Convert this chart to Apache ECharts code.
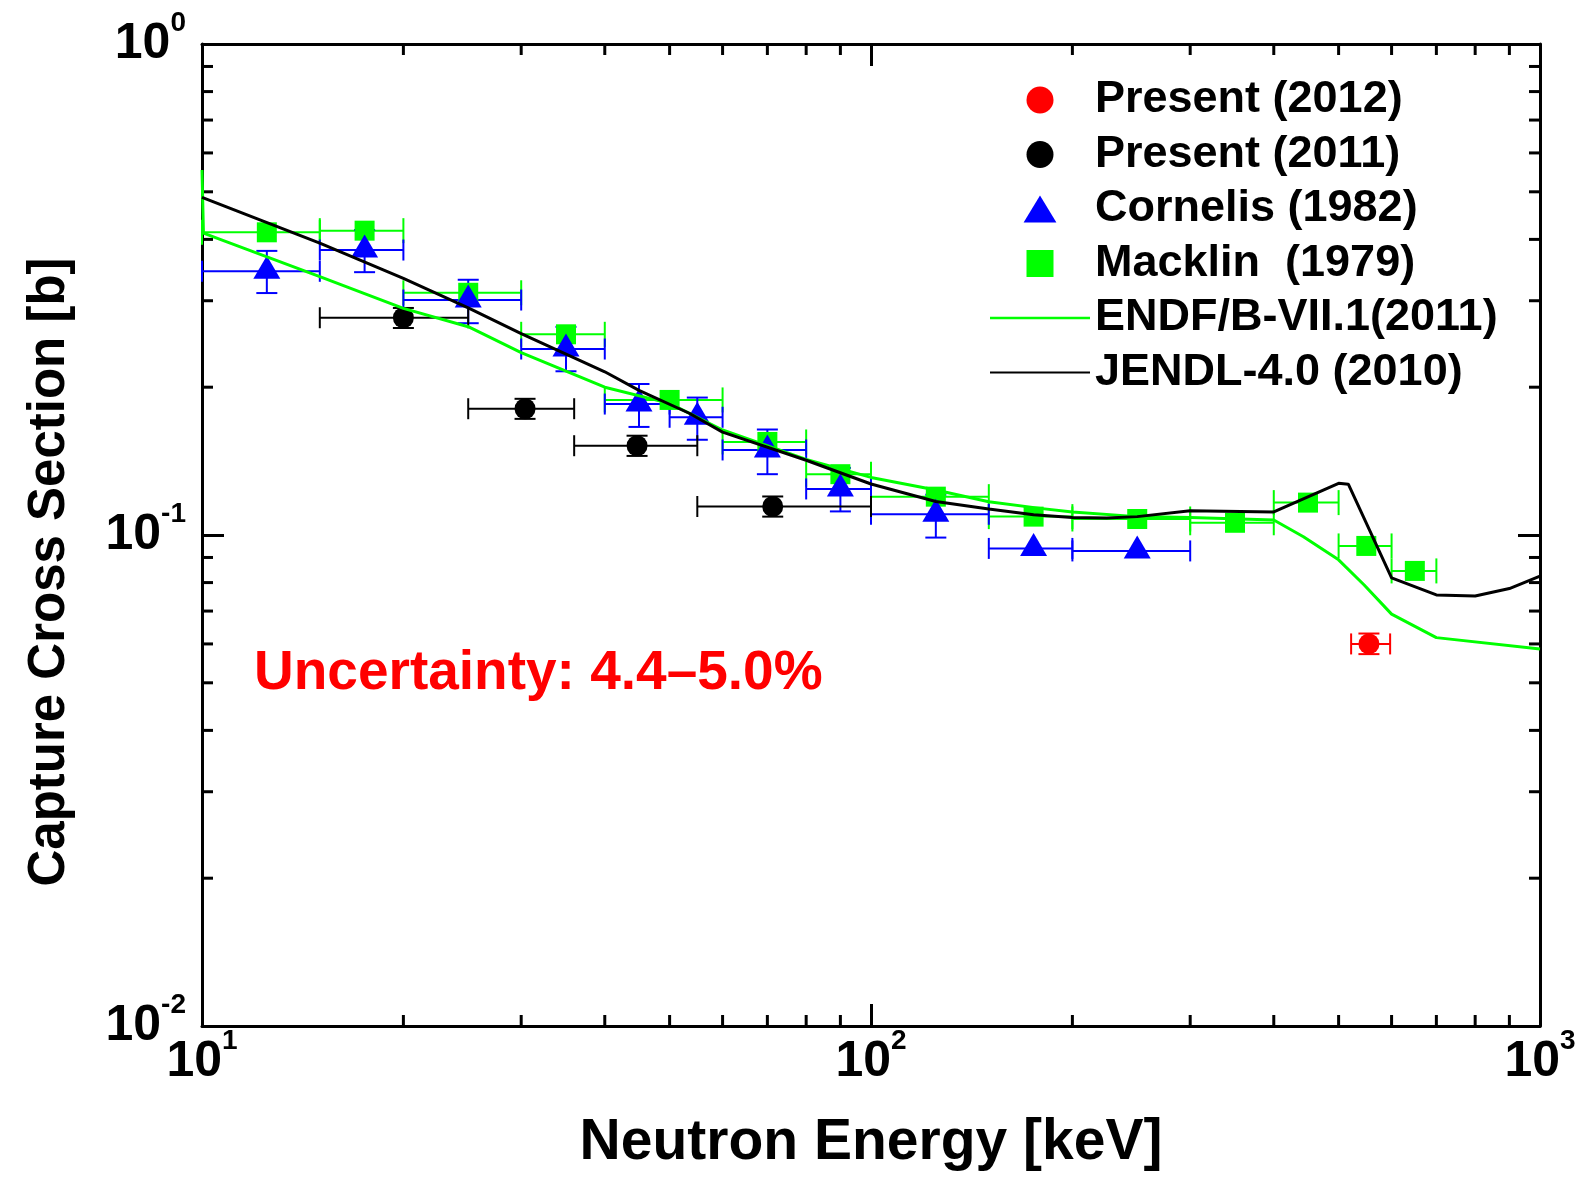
<!DOCTYPE html>
<html>
<head>
<meta charset="utf-8">
<script src="https://cdn.jsdelivr.net/npm/echarts@6/dist/echarts.min.js"></script>
<style>
html,body{margin:0;padding:0;background:#ffffff;}
#chart{width:1582px;height:1182px;}
</style>
</head>
<body>
<div id="chart"></div>
<script>
const FONT = '"Liberation Sans", Arial, Helvetica, sans-serif';

// ---- axis ranges / ticks ----
const xRange = [10, 1000];
const yRange = [0.01, 1];
const xMinorTicks = [20, 30, 40, 50, 60, 70, 80, 90, 200, 300, 400, 500, 600, 700, 800, 900];
const yMinorTicks = [0.02, 0.03, 0.04, 0.05, 0.06, 0.07, 0.08, 0.09, 0.2, 0.3, 0.4, 0.5, 0.6, 0.7, 0.8, 0.9];

// ---- Present (2012) ----
const p2012X   = [555];
const p2012Y   = [0.0600];
const p2012Xlo = [522];
const p2012Xhi = [597];
const p2012Ylo = [0.0572];
const p2012Yhi = [0.0630];

// ---- Present (2011) ----
const p2011X   = [20.0, 30.4, 44.7, 71.3];
const p2011Y   = [0.277, 0.1808, 0.152, 0.1143];
const p2011Xlo = [15, 25, 36, 55];
const p2011Xhi = [25, 36, 55, 100];
const p2011Ylo = [0.264, 0.1724, 0.1449, 0.1090];
const p2011Yhi = [0.290, 0.1894, 0.1593, 0.1198];

// ---- Cornelis (1982) ----
const cornX   = [12.5, 17.5, 25, 35, 45, 55, 70, 90, 125, 175, 250];
const cornY   = [0.3444, 0.3805, 0.301, 0.2392, 0.1848, 0.1737, 0.149, 0.1241, 0.1102, 0.0939, 0.0928];
const cornXlo = [10, 15, 20, 30, 40, 50, 60, 80, 100, 150, 200];
const cornXhi = [15, 20, 30, 40, 50, 60, 80, 100, 150, 200, 300];
const cornYlo = [0.311, 0.343, 0.270, 0.2155, 0.166, 0.1563, 0.133, 0.1117, 0.0988, 0.0939, 0.0928];
const cornYhi = [0.379, 0.418, 0.331, 0.2654, 0.203, 0.1905, 0.164, 0.137, 0.1208, 0.0939, 0.0928];

// ---- Macklin (1979) ----
const mackX   = [12.5, 17.5, 25, 35, 50, 70, 90, 125, 175, 250, 350, 450, 550, 650];
const mackY   = [0.4135, 0.4167, 0.3114, 0.2563, 0.1884, 0.1547, 0.133, 0.1197, 0.109, 0.1078, 0.1059, 0.1164, 0.095, 0.0845];
const mackXlo = [10, 15, 20, 30, 40, 60, 80, 100, 150, 200, 300, 400, 500, 600];
const mackXhi = [15, 20, 30, 40, 60, 80, 100, 150, 200, 300, 400, 500, 600, 700];

// ---- ENDF/B-VII.1 (2011) ----
const endfX = [10, 10.05, 15, 20, 25, 30, 40, 50, 60, 80, 100, 125, 150, 179, 200, 250, 300, 400, 443, 500, 546, 600, 700, 1000];
const endfY = [0.554, 0.412, 0.336, 0.2895, 0.2656, 0.2351, 0.200, 0.1854, 0.1636, 0.1426, 0.131, 0.1235, 0.1169, 0.1133, 0.1114, 0.109, 0.1086, 0.1073, 0.0992, 0.089, 0.0791, 0.069, 0.0618, 0.0586];

// ---- JENDL-4.0 (2010) ----
const jendlX = [10, 15, 20, 25, 30, 40, 45, 53.5, 60, 80, 100, 125, 150, 175, 200, 225, 250, 300, 400, 500, 517, 600, 700, 800, 900, 1000];
const jendlY = [0.487, 0.393, 0.333, 0.290, 0.257, 0.215, 0.197, 0.177, 0.162, 0.142, 0.127, 0.117, 0.113, 0.110, 0.1086, 0.1083, 0.109, 0.112, 0.1114, 0.1274, 0.1269, 0.0818, 0.0755, 0.0751, 0.0778, 0.0825];

const names = ['Present (2012)', 'Present (2011)', 'Cornelis (1982)', 'Macklin  (1979)', 'ENDF/B-VII.1(2011)', 'JENDL-4.0 (2010)'];

function zip(...arrs) { return arrs[0].map((_, i) => arrs.map(a => a[i])); }

function errRender(color, capH, capW) {
  return function (params, api) {
    const x = api.value(0), y = api.value(1);
    const xl = api.value(2), xh = api.value(3), yl = api.value(4), yh = api.value(5);
    const st = { stroke: color, lineWidth: 2, fill: null };
    const pL = api.coord([xl, y]), pR = api.coord([xh, y]);
    const ch = [
      { type: 'line', shape: { x1: pL[0], y1: pL[1], x2: pR[0], y2: pR[1] }, style: st },
      { type: 'line', shape: { x1: pL[0], y1: pL[1] - capH / 2, x2: pL[0], y2: pL[1] + capH / 2 }, style: st },
      { type: 'line', shape: { x1: pR[0], y1: pR[1] - capH / 2, x2: pR[0], y2: pR[1] + capH / 2 }, style: st }
    ];
    if (yh > yl) {
      const pB = api.coord([x, yl]), pT = api.coord([x, yh]);
      ch.push(
        { type: 'line', shape: { x1: pB[0], y1: pB[1], x2: pT[0], y2: pT[1] }, style: st },
        { type: 'line', shape: { x1: pB[0] - capW / 2, y1: pB[1], x2: pB[0] + capW / 2, y2: pB[1] }, style: st },
        { type: 'line', shape: { x1: pT[0] - capW / 2, y1: pT[1], x2: pT[0] + capW / 2, y2: pT[1] }, style: st }
      );
    }
    return { type: 'group', children: ch };
  };
}

function minorX(params, api) {
  const cs = params.coordSys;
  const p = api.coord([api.value(0), api.value(1)]);
  const st = { stroke: '#000', lineWidth: 3 };
  const b = cs.y + cs.height, t = cs.y;
  return { type: 'group', children: [
    { type: 'line', shape: { x1: p[0], y1: b, x2: p[0], y2: b - 11 }, style: st },
    { type: 'line', shape: { x1: p[0], y1: t, x2: p[0], y2: t + 11 }, style: st }
  ] };
}
function minorY(params, api) {
  const cs = params.coordSys;
  const p = api.coord([api.value(0), api.value(1)]);
  const st = { stroke: '#000', lineWidth: 3 };
  const l = cs.x, r = cs.x + cs.width;
  return { type: 'group', children: [
    { type: 'line', shape: { x1: l, y1: p[1], x2: l + 11, y2: p[1] }, style: st },
    { type: 'line', shape: { x1: r, y1: p[1], x2: r - 11, y2: p[1] }, style: st }
  ] };
}

const labelRich = {
  b: { fontSize: 50, fontWeight: 'bold', fontFamily: FONT, lineHeight: 70, color: '#000' },
  s: { fontSize: 28, fontWeight: 'bold', fontFamily: FONT, lineHeight: 28, verticalAlign: 'top', color: '#000' }
};
function powLabel(v) {
  const e = Math.round(Math.log10(v));
  return '{b|10}{s|' + e + '}';
}

const axisCommon = {
  type: 'log', logBase: 10,
  axisLine: { show: true, lineStyle: { color: '#000', width: 3 } },
  axisTick: { show: true, inside: true, length: 22, lineStyle: { color: '#000', width: 3 } },
  splitLine: { show: false },
  minorTick: { show: false }
};

const legendIcons = [
  'circle',
  'circle',
  'path://M0,28 L17,0 L34,28 Z',
  'path://M0,0 L25,0 L25,25 L0,25 Z',
  'path://M0,0 L100,0 L100,2.5 L0,2.5 Z',
  'path://M0,0 L100,0 L100,2 L0,2 Z'
];

const chart = echarts.init(document.getElementById('chart'), null, { renderer: 'canvas' });
chart.setOption({
  animation: false,
  backgroundColor: '#ffffff',
  grid: { left: 202, right: 42, top: 44, bottom: 156, containLabel: false },
  xAxis: [
    Object.assign({}, axisCommon, {
      min: xRange[0], max: xRange[1], position: 'bottom',
      axisLabel: { show: true, formatter: powLabel, rich: labelRich, margin: 1 },
      name: 'Neutron Energy [keV]', nameLocation: 'middle', nameGap: 89,
      nameTextStyle: { fontSize: 57, fontWeight: 'bold', fontFamily: FONT, color: '#000' }
    }),
    Object.assign({}, axisCommon, {
      min: xRange[0], max: xRange[1], position: 'top',
      axisLabel: { show: false }
    })
  ],
  yAxis: [
    Object.assign({}, axisCommon, {
      min: yRange[0], max: yRange[1], position: 'left',
      axisLabel: { show: true, formatter: powLabel, rich: labelRich, margin: 16 },
      name: 'Capture Cross Section [b]', nameLocation: 'middle', nameGap: 127,
      nameTextStyle: { fontSize: 51, fontWeight: 'bold', fontFamily: FONT, color: '#000', padding: [0, 74, 0, 0] }
    }),
    Object.assign({}, axisCommon, {
      min: yRange[0], max: yRange[1], position: 'right',
      axisLabel: { show: false }
    })
  ],
  legend: {
    data: names.map((n, i) => ({ name: n, icon: legendIcons[i] })),
    orient: 'vertical', left: 985, top: 72,
    itemWidth: 100, itemHeight: 27, itemGap: 8.5,
    symbolKeepAspect: true,
    selectedMode: false,
    textStyle: { fontFamily: FONT, fontSize: 45, fontWeight: 'bold', color: '#000', lineHeight: 46 }
  },
  graphic: [{
    type: 'text', x: 254, y: 674, silent: true,
    style: {
      text: 'Uncertainty: 4.4\u20135.0%', fill: '#ff0000',
      fontSize: 55, fontWeight: 'bold', fontFamily: FONT,
      align: 'left', verticalAlign: 'middle', textAlign: 'left', textVerticalAlign: 'middle'
    }
  }],
  series: [
    { type: 'custom', name: 'xminor', silent: true, z: 1, renderItem: minorX, encode: { x: 0, y: 1 },
      data: xMinorTicks.map(v => [v, 0.1]) },
    { type: 'custom', name: 'yminor', silent: true, z: 1, renderItem: minorY, encode: { x: 0, y: 1 },
      data: yMinorTicks.map(v => [100, v]) },
    { type: 'custom', name: 'err-mack', silent: true, z: 2, renderItem: errRender('#00ff00', 25, 21), encode: { x: 0, y: 1 },
      data: zip(mackX, mackY, mackXlo, mackXhi, mackY, mackY) },
    { type: 'custom', name: 'err-corn', silent: true, z: 2, renderItem: errRender('#0000ff', 21, 21), encode: { x: 0, y: 1 },
      data: zip(cornX, cornY, cornXlo, cornXhi, cornYlo, cornYhi) },
    { type: 'custom', name: 'err-2011', silent: true, z: 2, renderItem: errRender('#000000', 21, 21), encode: { x: 0, y: 1 },
      data: zip(p2011X, p2011Y, p2011Xlo, p2011Xhi, p2011Ylo, p2011Yhi) },
    { type: 'custom', name: 'err-2012', silent: true, z: 2, renderItem: errRender('#ff0000', 21, 21), encode: { x: 0, y: 1 },
      data: zip(p2012X, p2012Y, p2012Xlo, p2012Xhi, p2012Ylo, p2012Yhi) },
    { type: 'scatter', name: names[3], z: 3, symbol: 'rect', symbolSize: 20,
      itemStyle: { color: '#00ff00', opacity: 1 }, data: zip(mackX, mackY) },
    { type: 'scatter', name: names[2], z: 3, symbol: 'triangle', symbolSize: [27, 23], symbolOffset: [0, -4],
      itemStyle: { color: '#0000ff', opacity: 1 }, data: zip(cornX, cornY) },
    { type: 'scatter', name: names[1], z: 3, symbol: 'circle', symbolSize: 21,
      itemStyle: { color: '#000000', opacity: 1 }, data: zip(p2011X, p2011Y) },
    { type: 'scatter', name: names[0], z: 3, symbol: 'circle', symbolSize: 21,
      itemStyle: { color: '#ff0000', opacity: 1 }, data: zip(p2012X, p2012Y) },
    { type: 'line', name: names[4], z: 4, symbol: 'none', showSymbol: false,
      lineStyle: { color: '#00ff00', width: 3 }, itemStyle: { color: '#00ff00' }, data: zip(endfX, endfY) },
    { type: 'line', name: names[5], z: 4, symbol: 'none', showSymbol: false,
      lineStyle: { color: '#000000', width: 3 }, itemStyle: { color: '#000000' }, data: zip(jendlX, jendlY) }
  ]
});
</script>
</body>
</html>
